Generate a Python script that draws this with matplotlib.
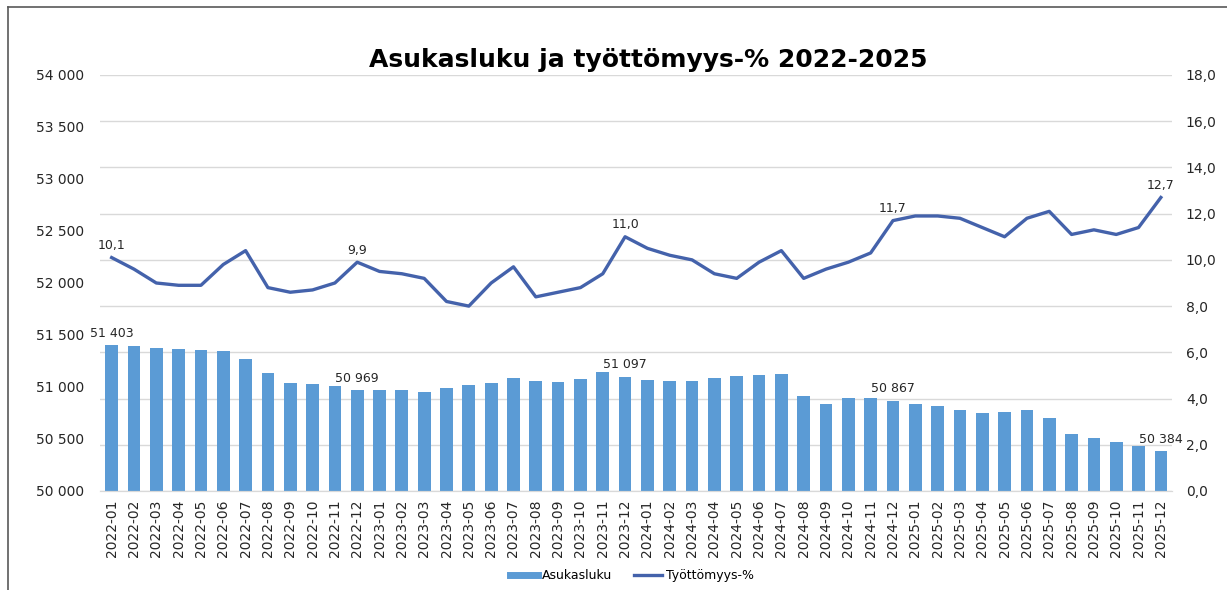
import matplotlib

matplotlib.use("Agg")
import matplotlib.pyplot as plt
from matplotlib.lines import Line2D
import numpy as np

# monthly population (left axis) and unemployment rate % (right axis)
months = [f"{y}-{m:02d}" for y in (2022, 2023, 2024, 2025) for m in range(1, 13)]
population = [
    51403, 51397, 51378, 51365, 51356, 51346, 51269, 51135, 51035, 51026, 51006, 50969,
    50974, 50968, 50949, 50987, 51019, 51035, 51090, 51058, 51051, 51077, 51147, 51097,
    51070, 51058, 51058, 51090, 51109, 51115, 51122, 50913, 50840, 50891, 50897, 50867,
    50833, 50821, 50776, 50750, 50763, 50776, 50699, 50551, 50513, 50474, 50436, 50384,
]
unemployment = [
    10.1, 9.6, 9.0, 8.9, 8.9, 9.8, 10.4, 8.8, 8.6, 8.7, 9.0, 9.9,
    9.5, 9.4, 9.2, 8.2, 8.0, 9.0, 9.7, 8.4, 8.6, 8.8, 9.4, 11.0,
    10.5, 10.2, 10.0, 9.4, 9.2, 9.9, 10.4, 9.2, 9.6, 9.9, 10.3, 11.7,
    11.9, 11.9, 11.8, 11.4, 11.0, 11.8, 12.1, 11.1, 11.3, 11.1, 11.4, 12.7,
]
labelled = ["2022-01", "2022-12", "2023-12", "2024-12", "2025-12"]

C_BAR = "#5B9BD5"
C_LINE = "#4462AB"
C_GRID = "#D9D9D9"
C_TEXT = "#262626"

plt.rcParams.update({"font.family": "DejaVu Sans", "font.size": 10})


def fi_thousands(v):
    return f"{v:,.0f}".replace(",", " ")


def fi_dec(v):
    return f"{v:.1f}".replace(".", ",")


fig = plt.figure(figsize=(12.27, 5.9), dpi=100)
ax = fig.add_axes([0.0819, 0.1678, 0.8733, 0.7051])
ax2 = ax.twinx()
# line axis on top, transparent, so its labels sit over the bars
ax2.set_zorder(ax.get_zorder() + 1)
ax2.patch.set_visible(False)

x = np.arange(len(months))
ax.bar(x, population, width=0.57, color=C_BAR, zorder=2)
ax.set_ylim(50000, 54000)
left_ticks = np.arange(50000, 54001, 500)
ax.set_yticks(left_ticks)
ax.set_yticklabels([fi_thousands(v) for v in left_ticks], color=C_TEXT)
ax.set_xlim(-0.5, len(months) - 0.5)
ax.set_xticks(x)
ax.set_xticklabels(months, rotation=90, color=C_TEXT)
ax.tick_params(length=0, pad=6)
ax.tick_params(axis="y", pad=12)

ax2.plot(x, unemployment, color=C_LINE, linewidth=2.4, zorder=3)
ax2.set_ylim(0, 18)
right_ticks = np.arange(0, 18.1, 2)
ax2.set_yticks(right_ticks)
ax2.set_yticklabels([fi_dec(v) for v in right_ticks], color=C_TEXT)
ax2.tick_params(length=0, pad=10)

# gridlines follow the right axis but are drawn behind the bars
for yv in right_ticks:
    ax.axhline(50000 + yv / 18 * 4000, color=C_GRID, linewidth=1, zorder=0)

for a in (ax, ax2):
    for s in ("top", "left", "right"):
        a.spines[s].set_visible(False)
    a.spines["bottom"].set_color(C_GRID)

for m in labelled:
    i = months.index(m)
    ax.annotate(fi_thousands(population[i]), xy=(i, population[i]), xytext=(0, 4),
                textcoords="offset points", ha="center", va="bottom", fontsize=9, color=C_TEXT)
    ax2.annotate(fi_dec(unemployment[i]), xy=(i, unemployment[i]), xytext=(0, 4),
                 textcoords="offset points", ha="center", va="bottom", fontsize=9, color=C_TEXT)

fig.text(0.528, 0.878, "Asukasluku ja työttömyys-% 2022-2025", ha="center", va="bottom",
         fontsize=18, fontweight="bold", color="black")

handles = [
    Line2D([], [], color=C_BAR, linewidth=5),
    Line2D([], [], color=C_LINE, linewidth=2.4),
]
fig.legend(handles, ["Asukasluku", "Työttömyys-%"], loc="center", bbox_to_anchor=(0.515, 0.024),
           ncol=2, frameon=False, fontsize=9, handlelength=2.2, handletextpad=0.3, columnspacing=1.8)

# chart frame (top and left edges)
fig.add_artist(Line2D([8 / 1227, 1], [1 - 7 / 590, 1 - 7 / 590], color="#595959", linewidth=1.2))
fig.add_artist(Line2D([8 / 1227, 8 / 1227], [0, 1 - 7 / 590], color="#595959", linewidth=1.2))

fig.savefig("out.png", dpi=100, facecolor="white")
